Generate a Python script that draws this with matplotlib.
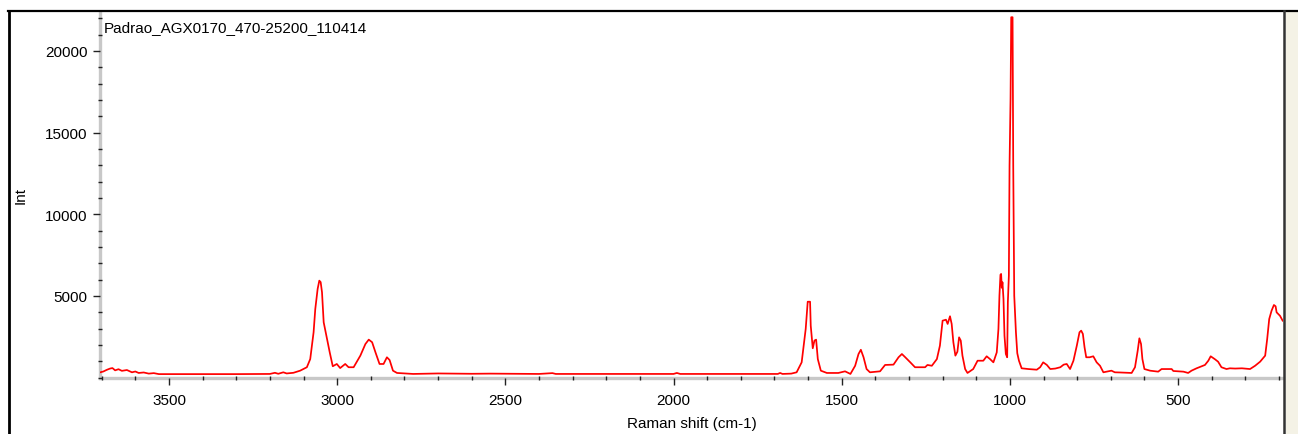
import numpy as np
import matplotlib
matplotlib.use("Agg")
import matplotlib.pyplot as plt
from matplotlib.lines import Line2D
from matplotlib.patches import Rectangle
from matplotlib.ticker import MultipleLocator

#spectrum (raman shift in cm-1, intensity)
shift = [3704, 3695, 3685, 3675, 3668, 3660, 3650, 3640, 3625, 3610, 3600, 3590,
         3575, 3560, 3545, 3530, 3400, 3300, 3200, 3185, 3175, 3160, 3150, 3130,
         3110, 3090, 3080, 3070, 3065, 3058, 3053, 3049, 3045, 3040, 3030, 3022,
         3013, 3001, 2991, 2976, 2966, 2951, 2931, 2916, 2906, 2896, 2886, 2874,
         2862, 2852, 2844, 2834, 2822, 2774, 2700, 2600, 2545, 2400, 2360, 2350,
         2200, 2000, 1990, 1980, 1800, 1690, 1683, 1676, 1650, 1634, 1619, 1607,
         1601, 1594, 1592, 1586, 1581, 1576, 1571, 1562, 1544, 1510, 1490, 1474,
         1460, 1450, 1443, 1435, 1426, 1416, 1386, 1371, 1346, 1331, 1321, 1311,
         1296, 1282, 1252, 1245, 1232, 1217, 1208, 1200, 1190, 1185, 1178, 1173,
         1168, 1162, 1156, 1151, 1146, 1141, 1133, 1126, 1109, 1096, 1079, 1069,
         1059, 1049, 1039, 1034, 1031, 1028, 1026, 1024, 1022, 1019, 1016, 1012,
         1008, 1006, 1003, 1001, 998, 996, 992, 990, 987, 982, 978, 973,
         965, 945, 920, 910, 901, 890, 880, 865, 850, 840, 831, 821,
         811, 801, 793, 788, 783, 778, 773, 763, 752, 742, 732, 722,
         698, 688, 672, 638, 628, 620, 615, 610, 606, 600, 583, 559,
         549, 519, 514, 484, 470, 460, 445, 430, 420, 410, 403, 391,
         381, 371, 356, 346, 330, 310, 286, 271, 256, 241, 235, 229,
         222, 215, 210, 207, 197, 189]
intensity = [330, 380, 480, 560, 590, 450, 520, 420, 470, 330, 380, 290,
             320, 250, 280, 220, 220, 220, 230, 300, 240, 330, 260, 300,
             430, 640, 1140, 2780, 4200, 5430, 5940, 5850, 5230, 3390, 2370, 1550,
             700, 840, 590, 840, 640, 640, 1350, 2060, 2330, 2170, 1550, 840,
             840, 1250, 1080, 430, 290, 230, 260, 240, 250, 230, 280, 230,
             230, 230, 290, 230, 230, 230, 290, 230, 250, 330, 940, 2980,
             4650, 4650, 3180, 1800, 2270, 2330, 1140, 430, 290, 290, 390, 230,
             730, 1450, 1710, 1250, 530, 330, 390, 780, 800, 1250, 1450, 1250,
             940, 640, 640, 780, 730, 1140, 1960, 3490, 3550, 3290, 3760, 3290,
             2170, 1350, 1590, 2470, 2270, 1350, 530, 290, 530, 1040, 1040, 1310,
             1140, 940, 1550, 2980, 5020, 6300, 6350, 5500, 5840, 4820, 2570, 1450,
             1250, 4620, 6240, 12970, 17060, 22060, 22060, 12970, 5020, 2780, 1500, 1040,
             575, 530, 490, 640, 940, 780, 530, 560, 640, 800, 840, 530,
             1040, 1960, 2780, 2880, 2680, 1860, 1250, 1250, 1310, 940, 730, 330,
             430, 330, 320, 290, 640, 1650, 2410, 2060, 1140, 530, 430, 370,
             530, 530, 410, 370, 290, 430, 575, 700, 780, 1040, 1310, 1140,
             980, 640, 530, 575, 560, 575, 530, 730, 980, 1350, 2370, 3590,
             4100, 4450, 4370, 4000, 3790, 3490]

sample_name = "Padrao_AGX0170_470-25200_110414"
x_ticks = [3500, 3000, 2500, 2000, 1500, 1000, 500]
y_ticks = [5000, 10000, 15000, 20000]

W, H = 1298, 435
fig = plt.figure(figsize=(W / 100, H / 100), dpi=100)
fig.patch.set_facecolor("white")

#axes in pixel positions of the reference
left, right, bottom, top = 100, 1283, 378.7, 13
ax = fig.add_axes([left / W, 1 - bottom / H, (right - left) / W, (bottom - top) / H])

ax.plot(shift, intensity, color="#ff0000", linewidth=1.25)

ax.set_xlim(3705, 188)
ax.set_ylim(0, 22380)

ax.set_xticks(x_ticks)
ax.set_yticks(y_ticks)
ax.xaxis.set_minor_locator(MultipleLocator(100))
ax.yaxis.set_minor_locator(MultipleLocator(1000))

font = "Liberation Sans"
fs = 11
for lab in ax.get_xticklabels() + ax.get_yticklabels():
    lab.set_fontfamily(font)
    lab.set_fontsize(fs)

#grey band spines like the original software, ticks drawn on top
for s in ["top", "right"]:
    ax.spines[s].set_visible(False)
for s in ["left", "bottom"]:
    ax.spines[s].set_color("#c8c8c8")
    ax.spines[s].set_linewidth(2.4)
    ax.spines[s].set_zorder(1)

ax.tick_params(which="major", direction="out", length=5, width=1, color="#222222", pad=4)
ax.tick_params(axis="x", which="major", pad=6)
ax.tick_params(which="minor", direction="inout", length=3.5, width=1, color="#222222")

ax.set_xlabel("Raman shift (cm-1)", fontfamily=font, fontsize=fs)
ax.set_ylabel("Int", fontfamily=font, fontsize=fs)
ax.xaxis.set_label_coords(0.5004, -0.104)
ax.yaxis.set_label_coords(-0.0615, 0.5)

ax.text(104 / W, 1 - 28 / H, sample_name, transform=fig.transFigure,
        fontfamily=font, fontsize=fs, va="center", ha="left")

#outer window frame
fig.add_artist(Rectangle((1286 / W, 0), 12 / W, 1 - 12 / H, transform=fig.transFigure,
                         facecolor="#f4f2e6", edgecolor="none"))
fig.add_artist(Line2D([8 / W, 1], [1 - 11.5 / H, 1 - 11.5 / H], transform=fig.transFigure,
                      color="black", linewidth=1.6))
fig.add_artist(Line2D([9 / W, 9 / W], [0, 1 - 11.5 / H], transform=fig.transFigure,
                      color="black", linewidth=2.0))
fig.add_artist(Line2D([1284.3 / W, 1284.3 / W], [0, 1 - 11.5 / H], transform=fig.transFigure,
                      color="#333333", linewidth=1.8))

fig.savefig("out.png", dpi=100)
